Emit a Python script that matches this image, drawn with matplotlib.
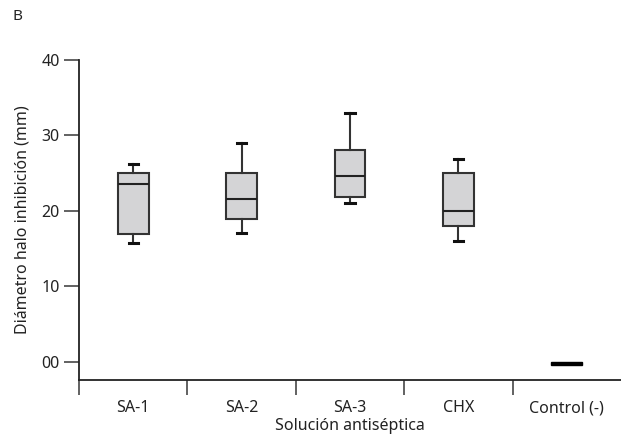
import numpy as np
import matplotlib
matplotlib.use("Agg")
import matplotlib.pyplot as plt

plt.rcParams['font.family'] = ['Noto Sans', 'DejaVu Sans']

categories = ['SA-1', 'SA-2', 'SA-3', 'CHX', 'Control (-)']
whis_lo = [15.8, 17.1, 21.1, 16.0, -0.4]
q1 = [17.0, 18.9, 21.9, 18.0, -0.4]
median = [23.6, 21.6, 24.6, 20.0, -0.2]
q3 = [25.0, 25.0, 28.1, 25.05, 0.0]
whis_hi = [26.2, 29.0, 33.0, 26.9, 0.0]
yticks = [0, 10, 20, 30, 40]
ytick_labels = ['00', '10', '20', '30', '40']

stats = []
for i, name in enumerate(categories):
    stats.append(dict(label=name, whislo=whis_lo[i], q1=q1[i], med=median[i],
                      q3=q3[i], whishi=whis_hi[i], fliers=[]))

fig = plt.figure(figsize=(6.21, 4.4), dpi=100)
ax = fig.add_axes([79 / 621, 1 - 380 / 440, 1 - 79 / 621, 320 / 440])

pos = np.arange(len(categories))
bp = ax.bxp(stats[:4], positions=pos[:4], widths=0.285, patch_artist=True,
            showfliers=False,
            boxprops=dict(facecolor='#d4d4d6', edgecolor='#333333', linewidth=1.5),
            medianprops=dict(color='#222222', linewidth=1.5),
            whiskerprops=dict(color='#333333', linewidth=1.5),
            capprops=dict(color='#111111', linewidth=2.2),
            capwidths=0.085)
ax.bxp(stats[4:], positions=pos[4:], widths=0.285, patch_artist=True,
       showfliers=False, showcaps=False,
       boxprops=dict(facecolor='#000000', edgecolor='#000000', linewidth=1.0),
       medianprops=dict(color='#000000', linewidth=1.0),
       whiskerprops=dict(color='#000000', linewidth=0))

ax.set_xlim(-0.5, 4.5)
ax.set_ylim(-2.4, 40)

ax.spines['top'].set_visible(False)
ax.spines['right'].set_visible(False)
for s in ['left', 'bottom']:
    ax.spines[s].set_color('#222222')
    ax.spines[s].set_linewidth(1.3)

ax.set_yticks(yticks)
ax.set_yticklabels(ytick_labels)
ax.tick_params(axis='y', length=11, width=1.3, color='#555555', pad=3, labelsize=11.5, labelcolor='#222222')

ax.set_xticks(np.arange(-0.5, 4.0, 1.0))
ax.set_xticklabels([])
ax.tick_params(axis='x', which='major', length=11, width=1.3, color='#555555')
ax.set_xticks(pos, minor=True)
ax.set_xticklabels(categories, minor=True)
ax.tick_params(axis='x', which='minor', length=0, pad=14.5, labelsize=11.5, labelcolor='#222222')

ax.set_xlabel('Solución antiséptica', fontsize=11.5, color='#222222', labelpad=1.5)
ax.set_ylabel('Diámetro halo inhibición (mm)', fontsize=11.5, color='#222222', labelpad=8)

fig.text(12 / 621, 1 - 17 / 440, 'B', fontsize=11, va='center', ha='left', color='#222222')

fig.savefig('out.png', dpi=100)
